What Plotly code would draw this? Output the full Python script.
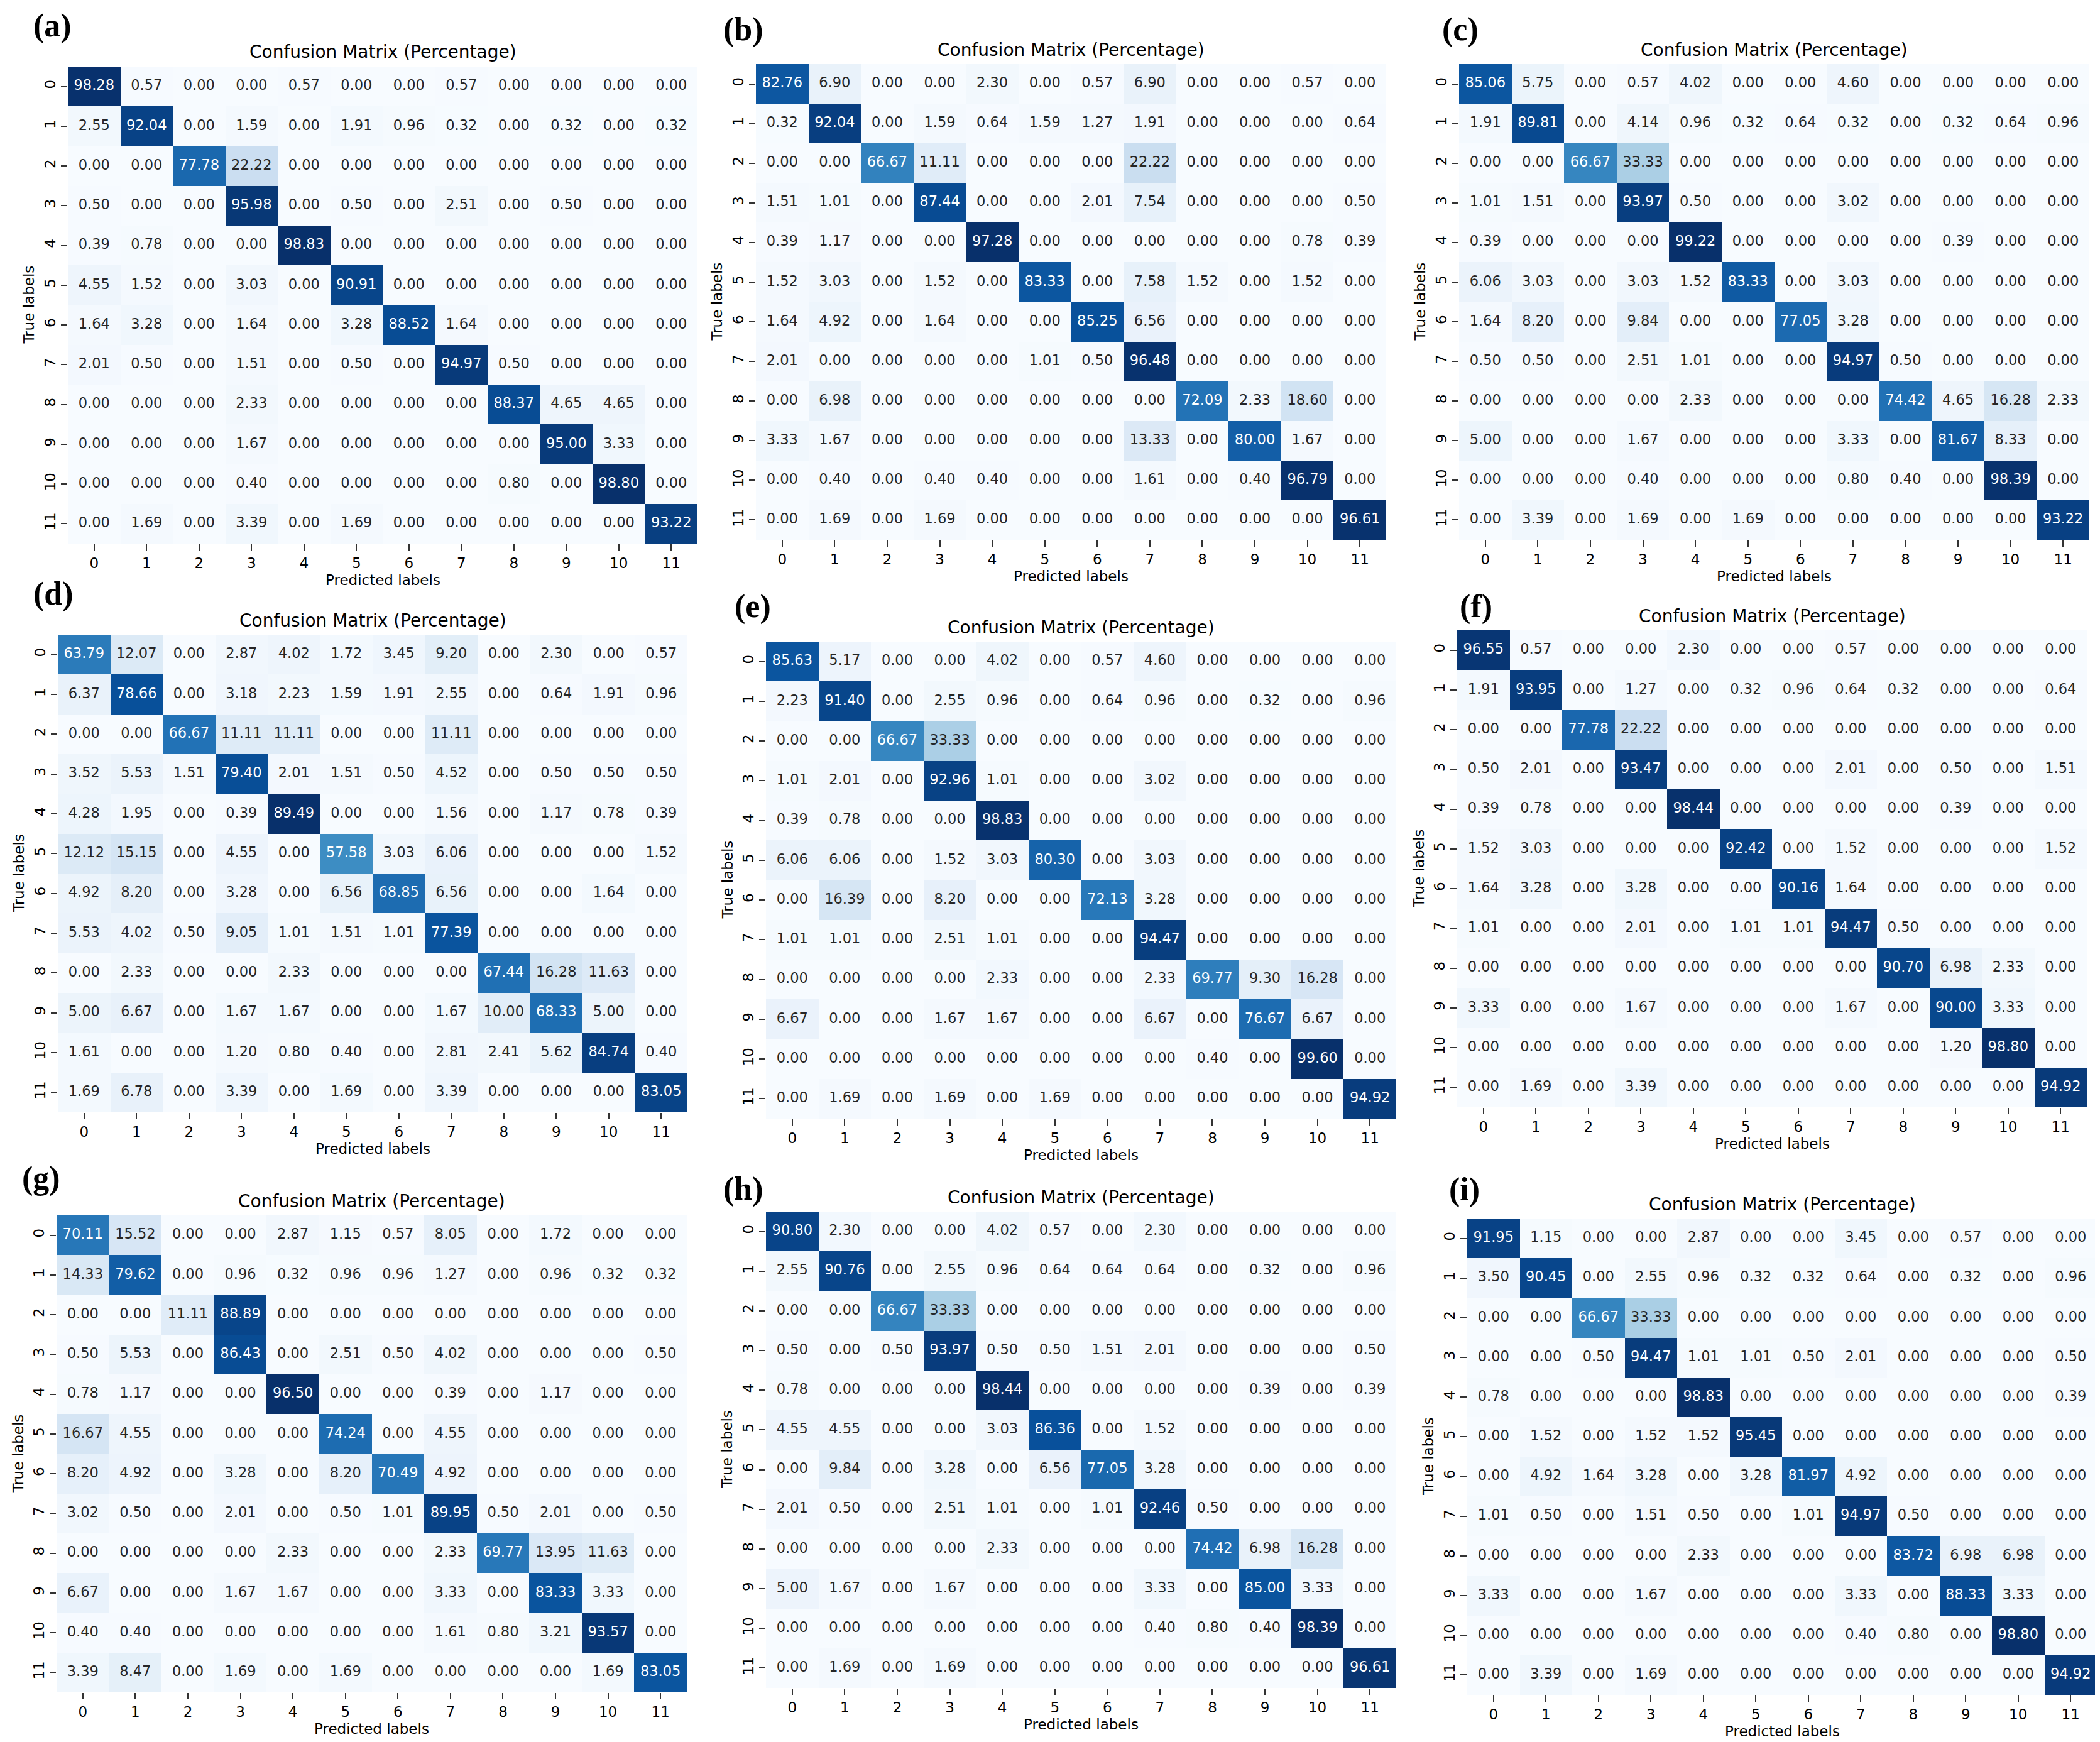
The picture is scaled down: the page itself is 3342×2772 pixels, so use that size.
import plotly.graph_objects as go

W, H = 3342, 2772

class_labels = [str(i) for i in range(12)]
title_text = "Confusion Matrix (Percentage)"
x_title = "Predicted labels"
y_title = "True labels"
panel_letters = ["(a)", "(b)", "(c)", "(d)", "(e)", "(f)", "(g)", "(h)", "(i)"]

cm_a = [
    [98.28, 0.57, 0.00, 0.00, 0.57, 0.00, 0.00, 0.57, 0.00, 0.00, 0.00, 0.00],
    [2.55, 92.04, 0.00, 1.59, 0.00, 1.91, 0.96, 0.32, 0.00, 0.32, 0.00, 0.32],
    [0.00, 0.00, 77.78, 22.22, 0.00, 0.00, 0.00, 0.00, 0.00, 0.00, 0.00, 0.00],
    [0.50, 0.00, 0.00, 95.98, 0.00, 0.50, 0.00, 2.51, 0.00, 0.50, 0.00, 0.00],
    [0.39, 0.78, 0.00, 0.00, 98.83, 0.00, 0.00, 0.00, 0.00, 0.00, 0.00, 0.00],
    [4.55, 1.52, 0.00, 3.03, 0.00, 90.91, 0.00, 0.00, 0.00, 0.00, 0.00, 0.00],
    [1.64, 3.28, 0.00, 1.64, 0.00, 3.28, 88.52, 1.64, 0.00, 0.00, 0.00, 0.00],
    [2.01, 0.50, 0.00, 1.51, 0.00, 0.50, 0.00, 94.97, 0.50, 0.00, 0.00, 0.00],
    [0.00, 0.00, 0.00, 2.33, 0.00, 0.00, 0.00, 0.00, 88.37, 4.65, 4.65, 0.00],
    [0.00, 0.00, 0.00, 1.67, 0.00, 0.00, 0.00, 0.00, 0.00, 95.00, 3.33, 0.00],
    [0.00, 0.00, 0.00, 0.40, 0.00, 0.00, 0.00, 0.00, 0.80, 0.00, 98.80, 0.00],
    [0.00, 1.69, 0.00, 3.39, 0.00, 1.69, 0.00, 0.00, 0.00, 0.00, 0.00, 93.22],
]

cm_b = [
    [82.76, 6.90, 0.00, 0.00, 2.30, 0.00, 0.57, 6.90, 0.00, 0.00, 0.57, 0.00],
    [0.32, 92.04, 0.00, 1.59, 0.64, 1.59, 1.27, 1.91, 0.00, 0.00, 0.00, 0.64],
    [0.00, 0.00, 66.67, 11.11, 0.00, 0.00, 0.00, 22.22, 0.00, 0.00, 0.00, 0.00],
    [1.51, 1.01, 0.00, 87.44, 0.00, 0.00, 2.01, 7.54, 0.00, 0.00, 0.00, 0.50],
    [0.39, 1.17, 0.00, 0.00, 97.28, 0.00, 0.00, 0.00, 0.00, 0.00, 0.78, 0.39],
    [1.52, 3.03, 0.00, 1.52, 0.00, 83.33, 0.00, 7.58, 1.52, 0.00, 1.52, 0.00],
    [1.64, 4.92, 0.00, 1.64, 0.00, 0.00, 85.25, 6.56, 0.00, 0.00, 0.00, 0.00],
    [2.01, 0.00, 0.00, 0.00, 0.00, 1.01, 0.50, 96.48, 0.00, 0.00, 0.00, 0.00],
    [0.00, 6.98, 0.00, 0.00, 0.00, 0.00, 0.00, 0.00, 72.09, 2.33, 18.60, 0.00],
    [3.33, 1.67, 0.00, 0.00, 0.00, 0.00, 0.00, 13.33, 0.00, 80.00, 1.67, 0.00],
    [0.00, 0.40, 0.00, 0.40, 0.40, 0.00, 0.00, 1.61, 0.00, 0.40, 96.79, 0.00],
    [0.00, 1.69, 0.00, 1.69, 0.00, 0.00, 0.00, 0.00, 0.00, 0.00, 0.00, 96.61],
]

cm_c = [
    [85.06, 5.75, 0.00, 0.57, 4.02, 0.00, 0.00, 4.60, 0.00, 0.00, 0.00, 0.00],
    [1.91, 89.81, 0.00, 4.14, 0.96, 0.32, 0.64, 0.32, 0.00, 0.32, 0.64, 0.96],
    [0.00, 0.00, 66.67, 33.33, 0.00, 0.00, 0.00, 0.00, 0.00, 0.00, 0.00, 0.00],
    [1.01, 1.51, 0.00, 93.97, 0.50, 0.00, 0.00, 3.02, 0.00, 0.00, 0.00, 0.00],
    [0.39, 0.00, 0.00, 0.00, 99.22, 0.00, 0.00, 0.00, 0.00, 0.39, 0.00, 0.00],
    [6.06, 3.03, 0.00, 3.03, 1.52, 83.33, 0.00, 3.03, 0.00, 0.00, 0.00, 0.00],
    [1.64, 8.20, 0.00, 9.84, 0.00, 0.00, 77.05, 3.28, 0.00, 0.00, 0.00, 0.00],
    [0.50, 0.50, 0.00, 2.51, 1.01, 0.00, 0.00, 94.97, 0.50, 0.00, 0.00, 0.00],
    [0.00, 0.00, 0.00, 0.00, 2.33, 0.00, 0.00, 0.00, 74.42, 4.65, 16.28, 2.33],
    [5.00, 0.00, 0.00, 1.67, 0.00, 0.00, 0.00, 3.33, 0.00, 81.67, 8.33, 0.00],
    [0.00, 0.00, 0.00, 0.40, 0.00, 0.00, 0.00, 0.80, 0.40, 0.00, 98.39, 0.00],
    [0.00, 3.39, 0.00, 1.69, 0.00, 1.69, 0.00, 0.00, 0.00, 0.00, 0.00, 93.22],
]

cm_d = [
    [63.79, 12.07, 0.00, 2.87, 4.02, 1.72, 3.45, 9.20, 0.00, 2.30, 0.00, 0.57],
    [6.37, 78.66, 0.00, 3.18, 2.23, 1.59, 1.91, 2.55, 0.00, 0.64, 1.91, 0.96],
    [0.00, 0.00, 66.67, 11.11, 11.11, 0.00, 0.00, 11.11, 0.00, 0.00, 0.00, 0.00],
    [3.52, 5.53, 1.51, 79.40, 2.01, 1.51, 0.50, 4.52, 0.00, 0.50, 0.50, 0.50],
    [4.28, 1.95, 0.00, 0.39, 89.49, 0.00, 0.00, 1.56, 0.00, 1.17, 0.78, 0.39],
    [12.12, 15.15, 0.00, 4.55, 0.00, 57.58, 3.03, 6.06, 0.00, 0.00, 0.00, 1.52],
    [4.92, 8.20, 0.00, 3.28, 0.00, 6.56, 68.85, 6.56, 0.00, 0.00, 1.64, 0.00],
    [5.53, 4.02, 0.50, 9.05, 1.01, 1.51, 1.01, 77.39, 0.00, 0.00, 0.00, 0.00],
    [0.00, 2.33, 0.00, 0.00, 2.33, 0.00, 0.00, 0.00, 67.44, 16.28, 11.63, 0.00],
    [5.00, 6.67, 0.00, 1.67, 1.67, 0.00, 0.00, 1.67, 10.00, 68.33, 5.00, 0.00],
    [1.61, 0.00, 0.00, 1.20, 0.80, 0.40, 0.00, 2.81, 2.41, 5.62, 84.74, 0.40],
    [1.69, 6.78, 0.00, 3.39, 0.00, 1.69, 0.00, 3.39, 0.00, 0.00, 0.00, 83.05],
]

cm_e = [
    [85.63, 5.17, 0.00, 0.00, 4.02, 0.00, 0.57, 4.60, 0.00, 0.00, 0.00, 0.00],
    [2.23, 91.40, 0.00, 2.55, 0.96, 0.00, 0.64, 0.96, 0.00, 0.32, 0.00, 0.96],
    [0.00, 0.00, 66.67, 33.33, 0.00, 0.00, 0.00, 0.00, 0.00, 0.00, 0.00, 0.00],
    [1.01, 2.01, 0.00, 92.96, 1.01, 0.00, 0.00, 3.02, 0.00, 0.00, 0.00, 0.00],
    [0.39, 0.78, 0.00, 0.00, 98.83, 0.00, 0.00, 0.00, 0.00, 0.00, 0.00, 0.00],
    [6.06, 6.06, 0.00, 1.52, 3.03, 80.30, 0.00, 3.03, 0.00, 0.00, 0.00, 0.00],
    [0.00, 16.39, 0.00, 8.20, 0.00, 0.00, 72.13, 3.28, 0.00, 0.00, 0.00, 0.00],
    [1.01, 1.01, 0.00, 2.51, 1.01, 0.00, 0.00, 94.47, 0.00, 0.00, 0.00, 0.00],
    [0.00, 0.00, 0.00, 0.00, 2.33, 0.00, 0.00, 2.33, 69.77, 9.30, 16.28, 0.00],
    [6.67, 0.00, 0.00, 1.67, 1.67, 0.00, 0.00, 6.67, 0.00, 76.67, 6.67, 0.00],
    [0.00, 0.00, 0.00, 0.00, 0.00, 0.00, 0.00, 0.00, 0.40, 0.00, 99.60, 0.00],
    [0.00, 1.69, 0.00, 1.69, 0.00, 1.69, 0.00, 0.00, 0.00, 0.00, 0.00, 94.92],
]

cm_f = [
    [96.55, 0.57, 0.00, 0.00, 2.30, 0.00, 0.00, 0.57, 0.00, 0.00, 0.00, 0.00],
    [1.91, 93.95, 0.00, 1.27, 0.00, 0.32, 0.96, 0.64, 0.32, 0.00, 0.00, 0.64],
    [0.00, 0.00, 77.78, 22.22, 0.00, 0.00, 0.00, 0.00, 0.00, 0.00, 0.00, 0.00],
    [0.50, 2.01, 0.00, 93.47, 0.00, 0.00, 0.00, 2.01, 0.00, 0.50, 0.00, 1.51],
    [0.39, 0.78, 0.00, 0.00, 98.44, 0.00, 0.00, 0.00, 0.00, 0.39, 0.00, 0.00],
    [1.52, 3.03, 0.00, 0.00, 0.00, 92.42, 0.00, 1.52, 0.00, 0.00, 0.00, 1.52],
    [1.64, 3.28, 0.00, 3.28, 0.00, 0.00, 90.16, 1.64, 0.00, 0.00, 0.00, 0.00],
    [1.01, 0.00, 0.00, 2.01, 0.00, 1.01, 1.01, 94.47, 0.50, 0.00, 0.00, 0.00],
    [0.00, 0.00, 0.00, 0.00, 0.00, 0.00, 0.00, 0.00, 90.70, 6.98, 2.33, 0.00],
    [3.33, 0.00, 0.00, 1.67, 0.00, 0.00, 0.00, 1.67, 0.00, 90.00, 3.33, 0.00],
    [0.00, 0.00, 0.00, 0.00, 0.00, 0.00, 0.00, 0.00, 0.00, 1.20, 98.80, 0.00],
    [0.00, 1.69, 0.00, 3.39, 0.00, 0.00, 0.00, 0.00, 0.00, 0.00, 0.00, 94.92],
]

cm_g = [
    [70.11, 15.52, 0.00, 0.00, 2.87, 1.15, 0.57, 8.05, 0.00, 1.72, 0.00, 0.00],
    [14.33, 79.62, 0.00, 0.96, 0.32, 0.96, 0.96, 1.27, 0.00, 0.96, 0.32, 0.32],
    [0.00, 0.00, 11.11, 88.89, 0.00, 0.00, 0.00, 0.00, 0.00, 0.00, 0.00, 0.00],
    [0.50, 5.53, 0.00, 86.43, 0.00, 2.51, 0.50, 4.02, 0.00, 0.00, 0.00, 0.50],
    [0.78, 1.17, 0.00, 0.00, 96.50, 0.00, 0.00, 0.39, 0.00, 1.17, 0.00, 0.00],
    [16.67, 4.55, 0.00, 0.00, 0.00, 74.24, 0.00, 4.55, 0.00, 0.00, 0.00, 0.00],
    [8.20, 4.92, 0.00, 3.28, 0.00, 8.20, 70.49, 4.92, 0.00, 0.00, 0.00, 0.00],
    [3.02, 0.50, 0.00, 2.01, 0.00, 0.50, 1.01, 89.95, 0.50, 2.01, 0.00, 0.50],
    [0.00, 0.00, 0.00, 0.00, 2.33, 0.00, 0.00, 2.33, 69.77, 13.95, 11.63, 0.00],
    [6.67, 0.00, 0.00, 1.67, 1.67, 0.00, 0.00, 3.33, 0.00, 83.33, 3.33, 0.00],
    [0.40, 0.40, 0.00, 0.00, 0.00, 0.00, 0.00, 1.61, 0.80, 3.21, 93.57, 0.00],
    [3.39, 8.47, 0.00, 1.69, 0.00, 1.69, 0.00, 0.00, 0.00, 0.00, 1.69, 83.05],
]

cm_h = [
    [90.80, 2.30, 0.00, 0.00, 4.02, 0.57, 0.00, 2.30, 0.00, 0.00, 0.00, 0.00],
    [2.55, 90.76, 0.00, 2.55, 0.96, 0.64, 0.64, 0.64, 0.00, 0.32, 0.00, 0.96],
    [0.00, 0.00, 66.67, 33.33, 0.00, 0.00, 0.00, 0.00, 0.00, 0.00, 0.00, 0.00],
    [0.50, 0.00, 0.50, 93.97, 0.50, 0.50, 1.51, 2.01, 0.00, 0.00, 0.00, 0.50],
    [0.78, 0.00, 0.00, 0.00, 98.44, 0.00, 0.00, 0.00, 0.00, 0.39, 0.00, 0.39],
    [4.55, 4.55, 0.00, 0.00, 3.03, 86.36, 0.00, 1.52, 0.00, 0.00, 0.00, 0.00],
    [0.00, 9.84, 0.00, 3.28, 0.00, 6.56, 77.05, 3.28, 0.00, 0.00, 0.00, 0.00],
    [2.01, 0.50, 0.00, 2.51, 1.01, 0.00, 1.01, 92.46, 0.50, 0.00, 0.00, 0.00],
    [0.00, 0.00, 0.00, 0.00, 2.33, 0.00, 0.00, 0.00, 74.42, 6.98, 16.28, 0.00],
    [5.00, 1.67, 0.00, 1.67, 0.00, 0.00, 0.00, 3.33, 0.00, 85.00, 3.33, 0.00],
    [0.00, 0.00, 0.00, 0.00, 0.00, 0.00, 0.00, 0.40, 0.80, 0.40, 98.39, 0.00],
    [0.00, 1.69, 0.00, 1.69, 0.00, 0.00, 0.00, 0.00, 0.00, 0.00, 0.00, 96.61],
]

cm_i = [
    [91.95, 1.15, 0.00, 0.00, 2.87, 0.00, 0.00, 3.45, 0.00, 0.57, 0.00, 0.00],
    [3.50, 90.45, 0.00, 2.55, 0.96, 0.32, 0.32, 0.64, 0.00, 0.32, 0.00, 0.96],
    [0.00, 0.00, 66.67, 33.33, 0.00, 0.00, 0.00, 0.00, 0.00, 0.00, 0.00, 0.00],
    [0.00, 0.00, 0.50, 94.47, 1.01, 1.01, 0.50, 2.01, 0.00, 0.00, 0.00, 0.50],
    [0.78, 0.00, 0.00, 0.00, 98.83, 0.00, 0.00, 0.00, 0.00, 0.00, 0.00, 0.39],
    [0.00, 1.52, 0.00, 1.52, 1.52, 95.45, 0.00, 0.00, 0.00, 0.00, 0.00, 0.00],
    [0.00, 4.92, 1.64, 3.28, 0.00, 3.28, 81.97, 4.92, 0.00, 0.00, 0.00, 0.00],
    [1.01, 0.50, 0.00, 1.51, 0.50, 0.00, 1.01, 94.97, 0.50, 0.00, 0.00, 0.00],
    [0.00, 0.00, 0.00, 0.00, 2.33, 0.00, 0.00, 0.00, 83.72, 6.98, 6.98, 0.00],
    [3.33, 0.00, 0.00, 1.67, 0.00, 0.00, 0.00, 3.33, 0.00, 88.33, 3.33, 0.00],
    [0.00, 0.00, 0.00, 0.00, 0.00, 0.00, 0.00, 0.40, 0.80, 0.00, 98.80, 0.00],
    [0.00, 3.39, 0.00, 1.69, 0.00, 0.00, 0.00, 0.00, 0.00, 0.00, 0.00, 94.92],
]

matrices = [cm_a, cm_b, cm_c, cm_d, cm_e, cm_f, cm_g, cm_h, cm_i]

# heatmap boxes in pixels: left, right, top, bottom
boxes = [
    (100, 1102, 98, 857),
    (1195, 2198, 94, 851),
    (2314, 3317, 94, 851),
    (84, 1086, 1002, 1762),
    (1211, 2214, 1013, 1772),
    (2311, 3313, 995, 1754),
    (82, 1085, 1926, 2685),
    (1211, 2214, 1920, 2678),
    (2327, 3329, 1931, 2689),
]
# centre of the panel letters, pixels
letter_pos = [(75, 33), (1175, 39), (2316, 39), (77, 937), (1190, 957),
              (2341, 957), (57, 1867), (1175, 1884), (2322, 1885)]

# matplotlib "Blues"
blues = ["rgb(247,251,255)", "rgb(222,235,247)", "rgb(198,219,239)",
         "rgb(158,202,225)", "rgb(107,174,214)", "rgb(66,146,198)",
         "rgb(33,113,181)", "rgb(8,81,156)", "rgb(8,48,107)"]
colorscale = [[k / 8, c] for k, c in enumerate(blues)]

FONT = "DejaVu Sans"


def fx(px):
    return px / W


def fy(py):
    return 1 - py / H


fig = go.Figure()
annotations = []
layout_axes = {}

for i, cm in enumerate(matrices):
    n = "" if i == 0 else str(i + 1)
    xa, ya = "x" + n, "y" + n
    left, right, top, bottom = boxes[i]
    zmax = max(max(r) for r in cm)

    fig.add_trace(go.Heatmap(
        z=cm, x=list(range(12)), y=list(range(12)),
        colorscale=colorscale, zmin=0, zmax=zmax, showscale=False,
        hoverinfo="skip", xaxis=xa, yaxis=ya,
    ))

    xs, ys, txt, cols = [], [], [], []
    for r in range(12):
        for c in range(12):
            v = cm[r][c]
            xs.append(c)
            ys.append(r)
            txt.append(f"{v:.2f}")
            cols.append("white" if v / zmax > 0.47 else "rgb(38,38,38)")
    fig.add_trace(go.Scatter(
        x=xs, y=ys, text=txt, mode="text",
        textfont=dict(family=FONT, size=22.5, color=cols),
        hoverinfo="skip", showlegend=False, xaxis=xa, yaxis=ya,
    ))

    tickfont = dict(family=FONT, size=23, color="black")
    layout_axes["xaxis" + n] = dict(
        domain=[fx(left), fx(right)], range=[-0.5, 11.5], anchor=ya,
        tickmode="array", tickvals=list(range(12)), ticktext=class_labels,
        ticks="outside", ticklen=10, tickwidth=1.5, tickcolor="#333",
        tickfont=tickfont, showgrid=False, zeroline=False, showline=False,
    )
    layout_axes["yaxis" + n] = dict(
        domain=[fy(bottom), fy(top)], range=[11.5, -0.5], anchor=xa,
        tickmode="array", tickvals=list(range(12)), ticktext=class_labels,
        ticks="outside", ticklen=10, tickwidth=1.5, tickcolor="#333",
        tickangle=-90, tickfont=tickfont, showgrid=False, zeroline=False,
        showline=False,
    )

    cx = (left + right) / 2
    cy = (top + bottom) / 2
    annotations.append(dict(
        x=fx(cx), y=fy(top - 23), xref="paper", yref="paper",
        text=title_text, showarrow=False, xanchor="center", yanchor="middle",
        font=dict(family=FONT, size=28, color="black"),
    ))
    annotations.append(dict(
        x=fx(cx), y=fy(bottom + 58), xref="paper", yref="paper",
        text=x_title, showarrow=False, xanchor="center", yanchor="middle",
        font=dict(family=FONT, size=23, color="black"),
    ))
    annotations.append(dict(
        x=fx(left - 62), y=fy(cy), xref="paper", yref="paper",
        text=y_title, showarrow=False, textangle=-90,
        xanchor="center", yanchor="middle",
        font=dict(family=FONT, size=23, color="black"),
    ))
    lx, ly = letter_pos[i]
    annotations.append(dict(
        x=fx(lx), y=fy(ly), xref="paper", yref="paper",
        text="<b>" + panel_letters[i] + "</b>", showarrow=False,
        xanchor="center", yanchor="middle",
        font=dict(family="Liberation Serif", size=52, color="black"),
    ))

fig.update_layout(
    width=W, height=H,
    margin=dict(l=0, r=0, t=0, b=0),
    paper_bgcolor="white", plot_bgcolor="white",
    showlegend=False,
    annotations=annotations,
    **layout_axes,
)

fig.write_html("out.html")
